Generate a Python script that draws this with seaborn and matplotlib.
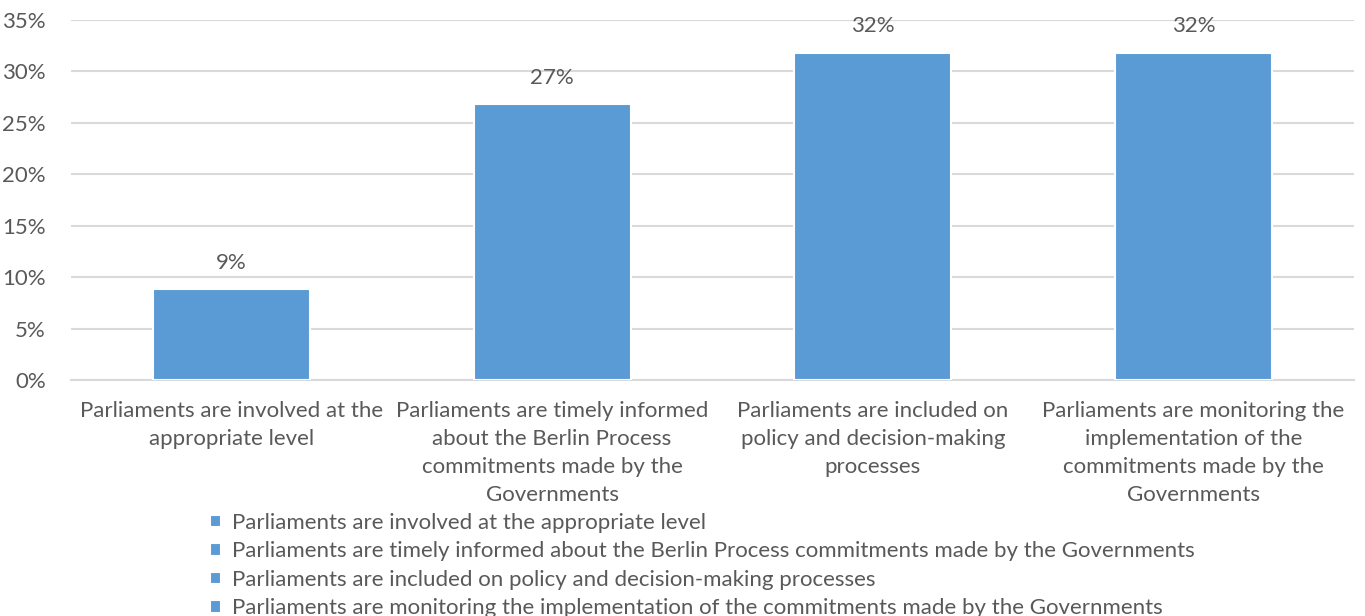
import pandas as pd
import seaborn as sns
import matplotlib.pyplot as plt
from matplotlib.ticker import FixedLocator, PercentFormatter

# chart values (share of respondents, %)
categories = [
    "Parliaments are involved at the appropriate level",
    "Parliaments are timely informed about the Berlin Process commitments made by the Governments",
    "Parliaments are included on policy and decision-making processes",
    "Parliaments are monitoring the implementation of the commitments made by the Governments",
]
tick_labels = [
    "Parliaments are involved at the\nappropriate level",
    "Parliaments are timely informed\nabout the Berlin Process\ncommitments made by the\nGovernments",
    "Parliaments are included on\npolicy and decision-making\nprocesses",
    "Parliaments are monitoring the\nimplementation of the\ncommitments made by the\nGovernments",
]
values = [8.8, 26.8, 31.8, 31.8]
value_labels = ["9%", "27%", "32%", "32%"]

df = pd.DataFrame({"category": categories, "value": values})

sns.set_style("white")
plt.rcParams["font.family"] = ["Lato", "DejaVu Sans"]
text_color = "#595959"
bar_color = "#5B9BD5"

fig = plt.figure(figsize=(13.65, 6.16), dpi=100)
ax = fig.add_axes([71 / 1365, 1 - 380 / 616, (1354 - 71) / 1365, 360 / 616])

sns.barplot(data=df, x="category", y="value", hue="category",
            palette=[bar_color] * 4, saturation=1, width=0.49, dodge=False,
            edgecolor="white", linewidth=1.5, legend=True, ax=ax, zorder=3)

for i, (v, lab) in enumerate(zip(values, value_labels)):
    ax.text(i, v + 1.6, lab, ha="center", va="bottom", fontsize=16, color=text_color)

ax.set_ylim(0, 35)
ax.set_xlim(-0.5, 3.5)
ax.set_yticks(range(0, 36, 5))
ax.yaxis.set_major_formatter(PercentFormatter(decimals=0))
ax.grid(axis="y", color="#D9D9D9", linewidth=1.5, zorder=0)
ax.set_xticks(range(4))
ax.set_xticklabels(tick_labels, fontsize=16, color=text_color, linespacing=1.5)
ax.xaxis.set_minor_locator(FixedLocator([-0.5, 0.5, 1.5, 2.5, 3.5]))
ax.tick_params(axis="x", which="major", length=0, pad=15)
ax.tick_params(axis="x", which="minor", length=8, color="#D9D9D9", width=1.5, direction="out")
ax.tick_params(axis="y", length=0, labelsize=16, labelcolor=text_color, pad=18)
ax.set_xlabel("")
ax.set_ylabel("")
for s in ["top", "right", "left"]:
    ax.spines[s].set_visible(False)
ax.spines["bottom"].set_color("#D9D9D9")
ax.spines["bottom"].set_linewidth(1.5)

handles, labels = ax.get_legend_handles_labels()
ax.get_legend().remove()
fig.legend(handles, labels, loc="upper left", bbox_to_anchor=(210 / 1365, 1 - 513 / 616),
           frameon=False, fontsize=16, labelcolor=text_color,
           handlelength=0.5, handleheight=0.5, handletextpad=0.5,
           labelspacing=0.38, borderpad=0, borderaxespad=0)

fig.savefig("out.png", dpi=100)
